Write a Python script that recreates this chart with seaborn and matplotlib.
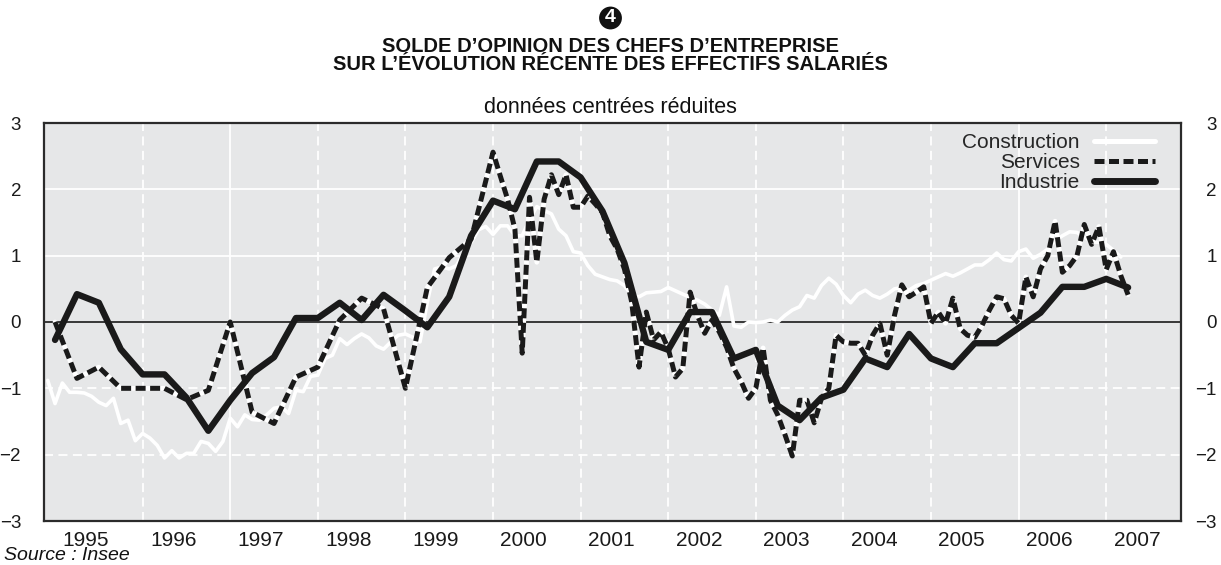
import matplotlib
matplotlib.use("Agg")
import numpy as np
import pandas as pd
import matplotlib.pyplot as plt
import matplotlib.transforms as mtransforms
import seaborn as sns
from matplotlib.lines import Line2D

# Construction : mensuel, de déc. 1994 à mars 2007
construction = [
    -0.88,
    -1.23, -0.92, -1.06, -1.06, -1.07, -1.12, -1.21, -1.26, -1.15, -1.53, -1.48, -1.79,
    -1.68, -1.75, -1.86, -2.05, -1.94, -2.05, -1.98, -1.98, -1.80, -1.83, -1.95, -1.80,
    -1.45, -1.58, -1.40, -1.47, -1.48, -1.40, -1.30, -1.28, -1.38, -1.03, -1.05, -0.82,
    -0.80, -0.55, -0.50, -0.25, -0.34, -0.25, -0.18, -0.24, -0.36, -0.41, -0.30, -0.20,
    -0.18, -0.23, -0.30, 0.30, 0.80, 0.83, 0.80, 0.85, 1.05, 1.20, 1.39, 1.44,
    1.32, 1.45, 1.45, 1.30, 1.30, 1.55, 1.74, 1.68, 1.63, 1.40, 1.30, 1.06,
    1.04, 0.85, 0.72, 0.68, 0.64, 0.62, 0.55, 0.40, 0.38, 0.44, 0.45, 0.46,
    0.52, 0.47, 0.42, 0.37, 0.33, 0.27, 0.18, 0.10, 0.53, -0.06, -0.08, 0.00,
    -0.01, 0.00, 0.03, 0.00, 0.10, 0.18, 0.23, 0.40, 0.36, 0.55, 0.66, 0.57,
    0.40, 0.29, 0.42, 0.48, 0.40, 0.36, 0.42, 0.50, 0.52, 0.48, 0.55, 0.58,
    0.63, 0.68, 0.73, 0.69, 0.74, 0.80, 0.86, 0.86, 0.94, 1.04, 0.94, 0.92,
    1.06, 1.10, 0.96, 1.02, 1.10, 1.22, 1.30, 1.36, 1.35, 1.28, 1.21, 1.20,
    1.17, 1.08, 0.98,
]

# Services : trimestriel 1995T1-1999T4, puis mensuel de janv. 2000 à avr. 2007
services_q = [0.0, -0.85, -0.68, -1.0, -1.0, -1.0, -1.17, -1.03, 0.0, -1.36,
              -1.53, -0.83, -0.68, 0.03, 0.36, 0.2, -1.0, 0.52, 0.97, 1.25]
services_m = [
    2.56, 2.20, 1.85, 1.40, -0.47, 1.88, 0.90, 1.85, 2.22, 1.92, 2.22, 1.73,
    1.73, 1.90, 1.78, 1.65, 1.30, 1.10, 0.80, 0.30, -0.68, 0.15, -0.27, -0.15,
    -0.40, -0.83, -0.70, 0.45, 0.10, -0.17, 0.03, -0.15, -0.38, -0.70, -0.90, -1.15,
    -1.00, -0.39, -1.18, -1.40, -1.70, -2.02, -1.18, -1.18, -1.52, -1.15, -1.00, -0.20,
    -0.30, -0.32, -0.32, -0.50, -0.20, -0.02, -0.50, 0.10, 0.56, 0.38, 0.45, 0.53,
    -0.02, 0.15, -0.02, 0.36, -0.10, -0.20, -0.23, -0.05, 0.18, 0.38, 0.35, 0.10,
    -0.02, 0.68, 0.38, 0.80, 1.00, 1.52, 0.75, 0.85, 1.00, 1.47, 1.17, 1.44,
    0.79, 1.06, 0.70, 0.41,
]

# Industrie : trimestriel 1995T1-2007T2
industrie = [
    -0.27, 0.42, 0.29, -0.41, -0.79, -0.79, -1.14, -1.64, -1.18, -0.77,
    -0.53, 0.06, 0.06, 0.29, 0.03, 0.41, 0.17, -0.08, 0.38, 1.30,
    1.83, 1.70, 2.42, 2.42, 2.18, 1.67, 0.89, -0.30, -0.42, 0.15,
    0.15, -0.55, -0.42, -1.26, -1.48, -1.14, -1.02, -0.55, -0.68, -0.18,
    -0.55, -0.68, -0.32, -0.32, -0.09, 0.14, 0.53, 0.53, 0.65, 0.52,
]

years = list(range(1995, 2008))
yticks = [-3, -2, -1, 0, 1, 2, 3]
labels = ["Construction", "Services", "Industrie"]

# dates en années décimales
df_con = pd.DataFrame({"t": 1995 + (np.arange(len(construction)) - 1) / 12,
                       "v": construction})
t_serv = np.concatenate([1995 + np.arange(len(services_q)) / 4,
                         2000 + np.arange(len(services_m)) / 12])
df_serv = pd.DataFrame({"t": t_serv, "v": services_q + services_m})
df_ind = pd.DataFrame({"t": 1995 + np.arange(len(industrie)) / 4, "v": industrie})

sns.set_style("white")
plt.rcParams["font.family"] = ["Liberation Sans", "DejaVu Sans"]

fig = plt.figure(figsize=(12.21, 5.65), dpi=100)
ax = fig.add_axes([44 / 1221, 1 - 521 / 565, 1137 / 1221, 398 / 565])
ax.set_facecolor("#e6e7e8")

# grille
for y in [1, 2]:
    ax.axhline(y, color="white", lw=1.3, zorder=1)
for y in [-1, -2]:
    ax.axhline(y, color="white", lw=1.3, ls=(0, (5, 3)), zorder=1)
for yr in years[1:]:
    ls = "-" if yr in (1997, 2006) else (0, (5, 3))
    ax.axvline(yr, color="white", lw=1.3, ls=ls, zorder=1)
ax.axhline(0, color="#1a1a1a", lw=1.2, zorder=2)

sns.lineplot(data=df_con, x="t", y="v", ax=ax, color="white", lw=2.6,
             estimator=None, sort=False, zorder=3)
sns.lineplot(data=df_serv, x="t", y="v", ax=ax, color="white", lw=3.4,
             estimator=None, sort=False, zorder=4)
sns.lineplot(data=df_serv, x="t", y="v", ax=ax, color="#1a1a1a", lw=3.6,
             ls=(0, (2.0, 0.9)), estimator=None, sort=False, zorder=5)
sns.lineplot(data=df_ind, x="t", y="v", ax=ax, color="#1a1a1a", lw=4.6,
             estimator=None, sort=False, zorder=6)

ax.set_xlim(1994.874, 2007.854)
ax.set_ylim(-3, 3)
ax.set_xlabel("")
ax.set_ylabel("")
ax.set_xticks([y + 0.35 for y in years])
ax.set_xticklabels([str(y) for y in years])
ax.set_yticks(yticks)
ax.tick_params(axis="x", length=0, pad=7, labelsize=15, colors="#1a1a1a")
ax.tick_params(axis="y", length=0, pad=16.5, labelsize=13.5, colors="#1a1a1a",
               labelleft=True, labelright=True)

# étiquettes de droite alignées à droite
offset = mtransforms.ScaledTranslation(13 / 100, 0, fig.dpi_scale_trans)
for tk in ax.yaxis.get_major_ticks():
    tk.label2.set_transform(tk.label2.get_transform() + offset)
    tk.label2.set_horizontalalignment("right")

for sp in ax.spines.values():
    sp.set_color("#2b2b2b")
    sp.set_linewidth(1.6)
    sp.set_zorder(7)

handles = [
    Line2D([], [], color="white", lw=3.6),
    Line2D([], [], color="#1a1a1a", lw=3.6, ls=(0, (2.0, 0.9))),
    Line2D([], [], color="#1a1a1a", lw=5.0),
]
ax.legend(handles, labels, loc="upper right", bbox_to_anchor=(0.977, 0.975),
          frameon=False, markerfirst=False, fontsize=15, handlelength=2.9,
          handletextpad=0.7, labelspacing=0.05, borderpad=0, borderaxespad=0)

fig.text(0.5, 1 - 18 / 565, "4", color="white", weight="bold", fontsize=14,
         ha="center", va="center",
         bbox=dict(boxstyle="circle,pad=0.15", fc="#111111", ec="none"))
fig.text(0.5, 1 - 47 / 565, "SOLDE D\u2019OPINION DES CHEFS D\u2019ENTREPRISE",
         ha="center", va="center", weight="bold", fontsize=14.5, color="#111111")
fig.text(0.5, 1 - 65 / 565,
         "SUR L\u2019\u00c9VOLUTION R\u00c9CENTE DES EFFECTIFS SALARI\u00c9S",
         ha="center", va="center", weight="bold", fontsize=14.5, color="#111111")
fig.text(0.5, 1 - 108 / 565, "donn\u00e9es centr\u00e9es r\u00e9duites",
         ha="center", va="center", fontsize=15.5, color="#111111")
fig.text(4 / 1221, 1 - 556 / 565, "Source : Insee", ha="left", va="center",
         style="italic", fontsize=14, color="#111111")

fig.savefig("out.png", dpi=100)
